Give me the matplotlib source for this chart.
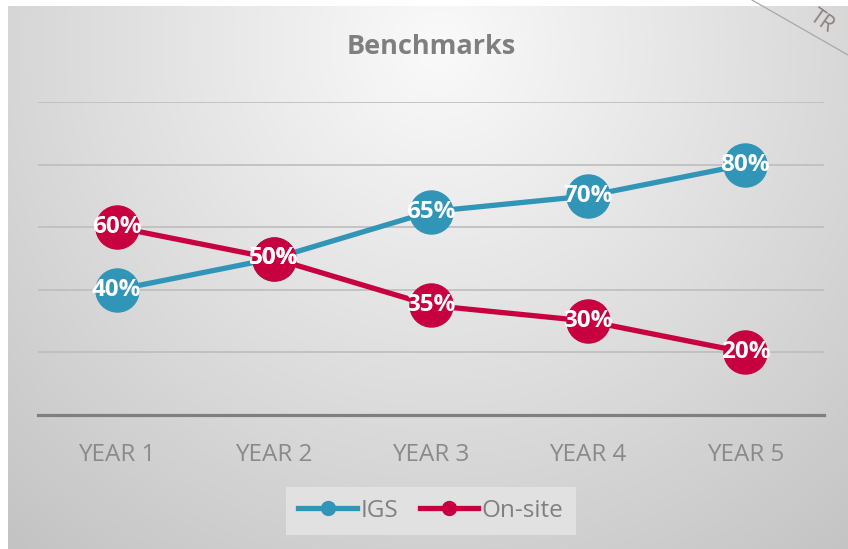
import numpy as np
import matplotlib
matplotlib.use("Agg")
import matplotlib.pyplot as plt
from matplotlib.lines import Line2D

plt.rcParams['font.family'] = ['Open Sans', 'DejaVu Sans']

categories = ["YEAR 1", "YEAR 2", "YEAR 3", "YEAR 4", "YEAR 5"]
igs = [40, 50, 65, 70, 80]
onsite = [60, 50, 35, 30, 20]
labels_igs = ["40%", "50%", "65%", "70%", "80%"]
labels_onsite = ["60%", "50%", "35%", "30%", "20%"]

BLUE = "#3195B7"
RED = "#C7003F"
W, H = 848, 549

fig = plt.figure(figsize=(W / 100, H / 100), dpi=100)
fig.patch.set_facecolor("white")

# background gradient panel
bg = fig.add_axes([8 / W, 0, (W - 8) / W, (H - 6) / H], zorder=0)
bw, bh = W - 8, H - 6
yy, xx = np.mgrid[0:bh, 0:bw]
d = np.sqrt(((xx - 430) / 600.0) ** 2 + ((yy - 40) / 600.0) ** 2)
v = np.clip(250 - 50 * d, 0, 255) / 255.0
bg.imshow(np.dstack([v, v, v]), aspect="auto", extent=[0, bw, bh, 0])
bg.set_axis_off()

# main axes
ax = fig.add_axes([38 / W, (H - 415) / H, (824 - 38) / W, (415 - 102) / H], zorder=1)
ax.patch.set_alpha(0)
x = np.arange(len(categories))
ax.set_xlim(-0.5, len(categories) - 0.5)
ax.set_ylim(0, 100)
for g in [20, 40, 60, 80, 100]:
    ax.axhline(g, color="#bdbdbd", lw=1.2, zorder=1)
ax.axhline(0, color="#7f7f7f", lw=2.3, zorder=2, clip_on=False)
for s in ax.spines.values():
    s.set_visible(False)
ax.set_yticks([])
ax.set_xticks(x)
ax.set_xticklabels(categories, fontsize=17.5, color="#8a8a8a")
ax.tick_params(axis="x", length=0, pad=20)

ax.plot(x, igs, color=BLUE, lw=3.8, marker="o", ms=31, mfc=BLUE, mec=BLUE,
        zorder=3, clip_on=False, solid_capstyle="round")
ax.plot(x, onsite, color=RED, lw=3.8, marker="o", ms=31, mfc=RED, mec=RED,
        zorder=4, clip_on=False, solid_capstyle="round")
for xi, yi, t in zip(x, igs, labels_igs):
    ax.text(xi, yi, t, ha="center", va="center", color="white",
            fontsize=17.5, fontweight="bold", zorder=5)
for xi, yi, t in zip(x, onsite, labels_onsite):
    ax.text(xi, yi, t, ha="center", va="center", color="white",
            fontsize=17.5, fontweight="bold", zorder=6)

fig.text(431 / W, 1 - 47 / H, "Benchmarks", ha="center", va="center",
         fontsize=19.5, fontweight="bold", color="#7f7f7f", zorder=5)

handles = [Line2D([], [], color=BLUE, lw=3.8, marker="o", ms=10),
           Line2D([], [], color=RED, lw=3.8, marker="o", ms=10)]
leg = fig.legend(handles, ["IGS", "On-site"], loc="center",
                 bbox_to_anchor=(431 / W, 1 - 511 / H), ncol=2, frameon=True,
                 fancybox=False, fontsize=17.5, handlelength=2.4,
                 handletextpad=0.15, columnspacing=0.9, borderpad=0.5,
                 labelcolor="#808080")
leg.get_frame().set_facecolor("#e1e1e1")
leg.get_frame().set_edgecolor("none")
leg.get_frame().set_alpha(1)
leg.set_zorder(5)

# watermark corner
fig.add_artist(Line2D([752 / W, 1.0], [1.0, 1 - 55 / H], color="#a8a8a8", lw=0.9,
                      transform=fig.transFigure, zorder=6))
fig.text(822 / W, 1 - 21 / H, "TR", rotation=-35, ha="center", va="center",
         fontsize=15, color="#8a7f78", zorder=6)

fig.savefig("out.png", dpi=100)
